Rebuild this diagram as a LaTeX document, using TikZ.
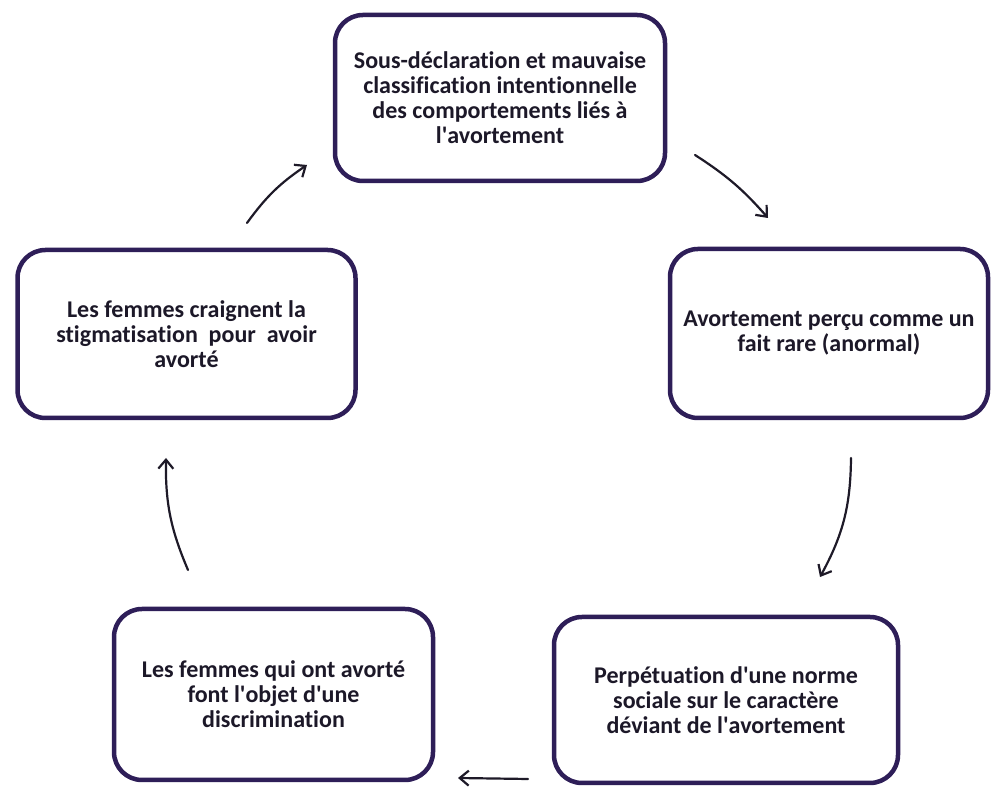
\documentclass[tikz,border=0pt]{standalone}
\usepackage{fontspec}
\setmainfont{Carlito}[Ligatures={NoCommon}]
\usetikzlibrary{arrows.meta}
\definecolor{boxline}{RGB}{46,30,88}
\definecolor{txt}{RGB}{28,24,40}
\definecolor{arr}{RGB}{30,26,40}
\newcommand{\apos}{\textquotesingle}
\tikzset{
  cyclebox/.style={draw=boxline, line width=4.5pt, rounded corners=28pt, fill=white,
    align=center, text=txt, font=\bfseries\fontsize{24}{25}\selectfont, inner sep=0pt},
  cyclearrow/.style={draw=arr, line width=2.2pt, line cap=round,
    -{Straight Barb[length=9pt,width=15pt,line width=2.2pt]}}
}
\begin{document}
\begin{tikzpicture}[x=1pt,y=1pt]
\useasboundingbox[fill=white] (0,0) rectangle (994,789);
\node[cyclebox, minimum width=330, minimum height=166] (top) at (500,691)
  {Sous-déclaration et mauvaise\\classification intentionnelle\\des comportements liés à\\l\apos avortement};
\node[cyclebox, minimum width=338, minimum height=168] (left) at (186.5,455)
  {Les femmes craignent la\\stigmatisation\ \ pour\ \ avoir\\avorté};
\node[cyclebox, minimum width=318, minimum height=169] (right) at (829,455.5)
  {Avortement perçu comme un\\fait rare (anormal)};
\node[cyclebox, minimum width=319, minimum height=171] (bl) at (273.5,94.5)
  {Les femmes qui ont avorté\\font l\apos objet d\apos une\\discrimination};
\node[cyclebox, minimum width=344, minimum height=166] (br) at (726,89)
  {Perpétuation d\apos une norme\\sociale sur le caractère\\déviant de l\apos avortement};
\coordinate (a1s) at (247,566);
\coordinate (a1e) at (307,624);
\coordinate (a2s) at (695,634);
\coordinate (a2e) at (768,571);
\coordinate (a3s) at (851,331);
\coordinate (a3e) at (820,212);
\coordinate (a4s) at (528,10);
\coordinate (a4e) at (458,11);
\coordinate (a5s) at (188,219);
\coordinate (a5e) at (166,331);
\draw[cyclearrow] (a1s) to[bend left=10] (a1e);
\draw[cyclearrow] (a2s) to[bend left=8] (a2e);
\draw[cyclearrow] (a3s) to[bend left=14] (a3e);
\draw[cyclearrow] (a4s) -- (a4e);
\draw[cyclearrow] (a5s) to[bend left=12] (a5e);
\end{tikzpicture}
\end{document}
